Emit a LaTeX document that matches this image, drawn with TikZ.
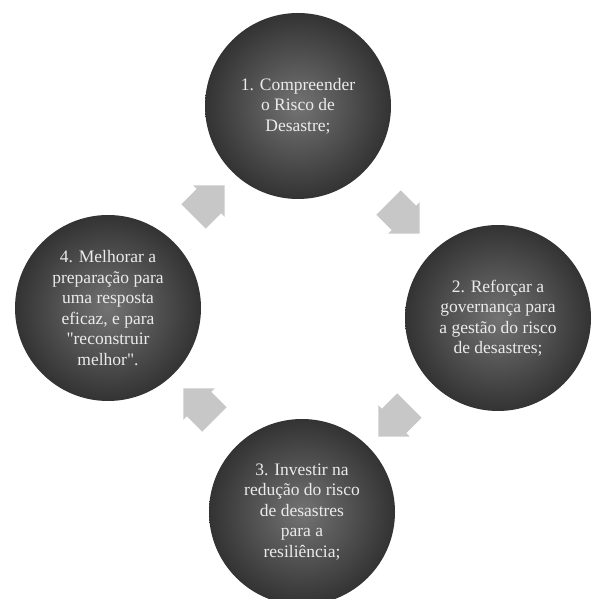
\documentclass[tikz,border=0pt]{standalone}
\usepackage{fontspec}
\setmainfont{Liberation Serif}
\usetikzlibrary{shapes.arrows,calc}

\begin{document}
\begin{tikzpicture}[x=1pt,y=1pt,
    riskcircle/.style={circle, minimum size=186pt, inner sep=0pt,
      shading=radial, inner color=black!55, outer color=black!80,
      text=white!92!black, align=center,
      font=\fontsize{17.5}{20.5}\selectfont},
    cyclearrow/.style={single arrow, fill=black!22, inner xsep=0pt,
      inner ysep=17pt, minimum height=44pt,
      single arrow head extend=5pt}]
    \useasboundingbox (0,0) rectangle (594,599);
    % Circles
    \node[riskcircle] (c1) at (298,493) {1. Compreender\\o Risco de\\Desastre;};
    \node[riskcircle] (c2) at (498,281) {2. Reforçar a\\governança para\\a gestão do risco\\de desastres;};
    \node[riskcircle] (c3) at (302,87) {3. Investir na\\redução do risco\\de desastres\\para a\\resiliência;};
    \node[riskcircle] (c4) at (108,291) {4. Melhorar a\\preparação para\\uma resposta\\eficaz, e para\\\textquotedbl reconstruir\\melhor\textquotedbl.};
    % Arrows between circles
    \node[cyclearrow, rotate=-45] (a12) at ($(c1)!0.5!(c2)$) {};
    \node[cyclearrow, rotate=-135] (a23) at ($(c2)!0.5!(c3)$) {};
    \node[cyclearrow, rotate=135] (a34) at ($(c3)!0.5!(c4)$) {};
    \node[cyclearrow, rotate=45] (a41) at ($(c4)!0.5!(c1)$) {};
\end{tikzpicture}
\end{document}
